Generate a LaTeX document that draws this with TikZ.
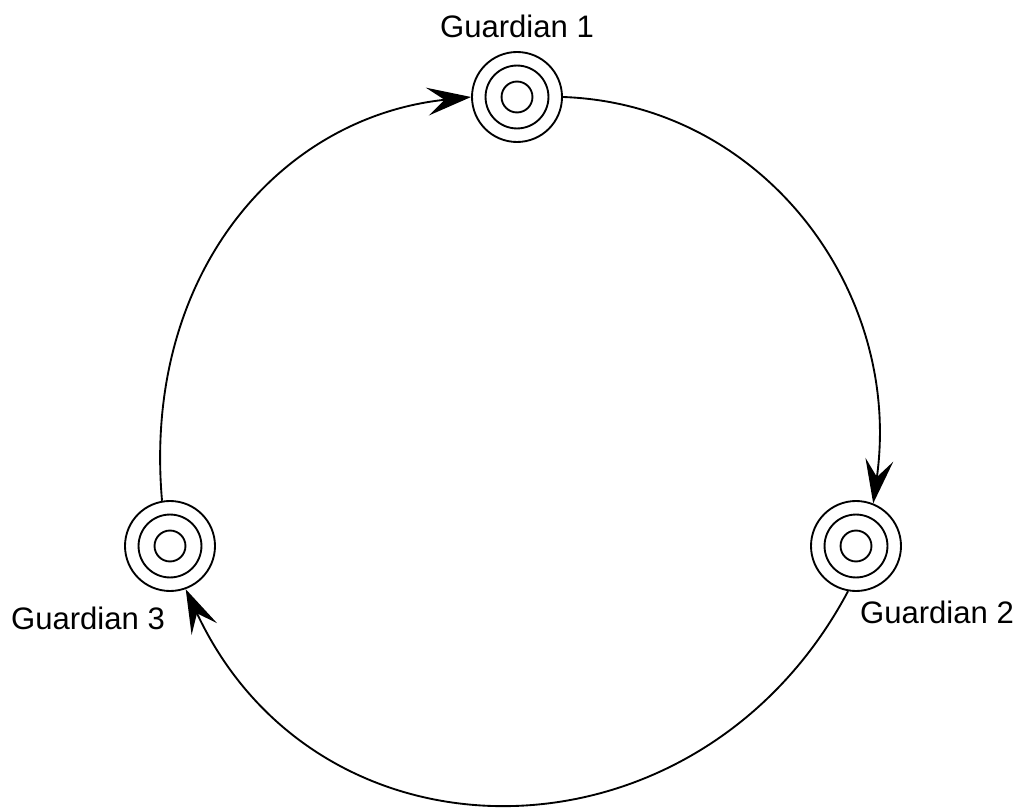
\documentclass[tikz,border=0pt]{standalone}
\usepackage{fontspec}
\setmainfont{Liberation Sans}
\usetikzlibrary{arrows.meta}
\tikzset{
  guard/.style={circle,draw,line width=1.4pt,minimum size=67.5pt,inner sep=0pt,
    path picture={\draw[line width=1.4pt] (path picture bounding box.center)
      circle (23.6pt) circle (11.6pt);}},
  glabel/.style={font=\fontsize{23.3}{28}\selectfont},
  ring/.style={line width=1.4pt,-{Stealth[length=33pt,width=21pt,inset=13pt]}}
}
\begin{document}
\begin{tikzpicture}[x=0.75pt,y=-0.75pt]
\useasboundingbox (0,0) rectangle (1018,809);
% the three guardians
\node[guard] (g1) at (517,97) {};
\node[guard] (g2) at (856,546) {};
\node[guard] (g3) at (170,546) {};
% names
\node[glabel] (lab1) at (517,26) {Guardian 1};
\node[glabel] (lab2) at (937,612) {Guardian 2};
\node[glabel] (lab3) at (88,618) {Guardian 3};
% ring of hand-overs
\draw[ring] (g1.east) to[out=-2,in=82,out distance=150pt,in distance=161pt] (g2.68);
\draw[ring] (g2.-100) to[out=242,in=295,out distance=238pt,in distance=238pt] (g3.-70);
\draw[ring] (g3.100) to[out=95,in=186,out distance=170pt,in distance=145pt] (g1.west);
\end{tikzpicture}
\end{document}
